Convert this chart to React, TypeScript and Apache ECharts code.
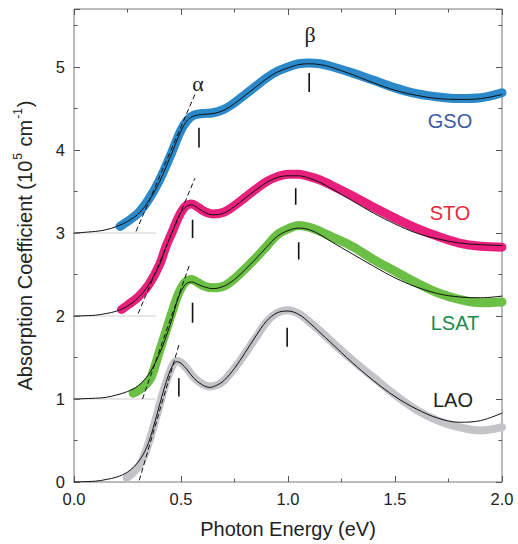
import React, { useEffect, useRef } from 'react';
import * as echarts from 'echarts';

// ---------- data (photon energy eV, absorption 10^5 cm^-1, curves offset by 1) ----------
const gsoMeasured = [[0.215,3.08],[0.25,3.14],[0.3,3.24],[0.35,3.41],[0.4,3.64],[0.45,3.93],[0.5,4.24],[0.53,4.36],[0.56,4.42],[0.6,4.44],[0.65,4.45],[0.7,4.49],[0.75,4.57],[0.8,4.67],[0.85,4.77],[0.9,4.87],[0.95,4.95],[1.0,5.0],[1.05,5.04],[1.1,5.05],[1.15,5.04],[1.2,5.01],[1.3,4.93],[1.4,4.84],[1.5,4.75],[1.6,4.68],[1.7,4.64],[1.8,4.62],[1.9,4.63],[2.0,4.69]];
const gsoFit = [[0,3.0],[0.1,3.02],[0.15,3.04],[0.2,3.08],[0.25,3.14],[0.3,3.23],[0.35,3.39],[0.4,3.62],[0.45,3.92],[0.5,4.23],[0.53,4.36],[0.56,4.41],[0.6,4.43],[0.65,4.44],[0.7,4.48],[0.75,4.56],[0.8,4.66],[0.85,4.76],[0.9,4.86],[0.95,4.94],[1.0,4.99],[1.05,5.03],[1.1,5.04],[1.15,5.03],[1.2,5.0],[1.3,4.91],[1.4,4.81],[1.5,4.72],[1.6,4.66],[1.7,4.62],[1.8,4.61],[1.9,4.62],[2.0,4.67]];

const stoMeasured = [[0.222,2.08],[0.25,2.13],[0.3,2.23],[0.35,2.38],[0.4,2.62],[0.43,2.84],[0.46,3.02],[0.49,3.2],[0.52,3.32],[0.55,3.35],[0.58,3.31],[0.61,3.26],[0.65,3.23],[0.7,3.25],[0.75,3.33],[0.8,3.43],[0.85,3.53],[0.9,3.62],[0.95,3.68],[1.0,3.71],[1.05,3.71],[1.1,3.68],[1.15,3.64],[1.2,3.58],[1.3,3.45],[1.4,3.31],[1.5,3.18],[1.6,3.06],[1.7,2.96],[1.8,2.88],[1.9,2.84],[2.0,2.83]];
const stoFit = [[0,2.0],[0.1,2.01],[0.15,2.03],[0.2,2.06],[0.25,2.12],[0.3,2.22],[0.35,2.38],[0.4,2.62],[0.43,2.83],[0.46,3.02],[0.49,3.2],[0.52,3.31],[0.55,3.34],[0.58,3.3],[0.61,3.25],[0.65,3.22],[0.7,3.24],[0.75,3.32],[0.8,3.42],[0.85,3.52],[0.9,3.61],[0.95,3.67],[1.0,3.69],[1.05,3.69],[1.1,3.66],[1.15,3.61],[1.2,3.54],[1.3,3.39],[1.4,3.24],[1.5,3.11],[1.6,3.0],[1.7,2.93],[1.8,2.88],[1.9,2.86],[2.0,2.85]];

const lsatMeasured = [[0.277,1.07],[0.3,1.1],[0.33,1.16],[0.36,1.26],[0.4,1.58],[0.43,1.82],[0.46,2.06],[0.49,2.28],[0.52,2.41],[0.55,2.44],[0.58,2.4],[0.61,2.36],[0.65,2.34],[0.7,2.36],[0.75,2.45],[0.8,2.57],[0.85,2.7],[0.9,2.84],[0.95,2.98],[1.0,3.05],[1.05,3.09],[1.1,3.07],[1.15,3.02],[1.2,2.96],[1.3,2.84],[1.4,2.68],[1.5,2.54],[1.6,2.4],[1.7,2.28],[1.8,2.2],[1.9,2.16],[2.0,2.17]];
const lsatFit = [[0,1.0],[0.1,1.01],[0.15,1.02],[0.2,1.05],[0.25,1.09],[0.3,1.16],[0.35,1.3],[0.4,1.55],[0.45,1.9],[0.49,2.24],[0.52,2.38],[0.55,2.41],[0.58,2.38],[0.61,2.35],[0.65,2.33],[0.7,2.36],[0.75,2.44],[0.8,2.56],[0.85,2.69],[0.9,2.83],[0.95,2.96],[1.0,3.03],[1.05,3.06],[1.1,3.04],[1.15,2.98],[1.2,2.9],[1.3,2.75],[1.4,2.6],[1.5,2.46],[1.6,2.35],[1.7,2.27],[1.8,2.23],[1.9,2.22],[2.0,2.24]];

const laoMeasured = [[0.246,0.05],[0.28,0.12],[0.31,0.22],[0.34,0.4],[0.37,0.65],[0.4,0.93],[0.43,1.2],[0.46,1.4],[0.48,1.46],[0.5,1.44],[0.53,1.36],[0.56,1.26],[0.6,1.18],[0.635,1.15],[0.67,1.17],[0.7,1.22],[0.75,1.37],[0.8,1.55],[0.85,1.74],[0.9,1.93],[0.95,2.04],[1.0,2.07],[1.05,2.03],[1.1,1.93],[1.15,1.82],[1.2,1.7],[1.3,1.47],[1.4,1.26],[1.5,1.05],[1.6,0.87],[1.7,0.74],[1.8,0.66],[1.9,0.62],[2.0,0.66]];
const laoFit = [[0,0],[0.1,0.01],[0.15,0.03],[0.2,0.06],[0.25,0.12],[0.3,0.24],[0.34,0.42],[0.37,0.65],[0.4,0.93],[0.43,1.2],[0.46,1.4],[0.48,1.45],[0.5,1.43],[0.53,1.35],[0.56,1.25],[0.6,1.17],[0.635,1.14],[0.67,1.17],[0.7,1.22],[0.75,1.37],[0.8,1.56],[0.85,1.76],[0.9,1.94],[0.95,2.04],[1.0,2.06],[1.05,2.02],[1.1,1.92],[1.15,1.8],[1.2,1.68],[1.3,1.44],[1.4,1.22],[1.5,1.03],[1.6,0.88],[1.7,0.77],[1.8,0.72],[1.9,0.74],[2.0,0.83]];

// dashed onset tangents [[E0, A0], [E1, A1]]
const gsoTangent = [[0.29,3.02],[0.57,4.7]];
const stoTangent = [[0.3,2.03],[0.565,3.66]];
const lsatTangent = [[0.32,1.0],[0.54,2.62]];
const laoTangent = [[0.305,0.02],[0.49,1.65]];

// peak markers [E, Alow, Ahigh]
const alphaMarkers = [[0.584,4.03,4.27],[0.554,2.94,3.16],[0.554,1.92,2.16],[0.49,1.03,1.25]];
const betaMarkers = [[1.099,4.7,4.93],[1.036,3.34,3.54],[1.05,2.68,2.89],[0.996,1.63,1.86]];

// thin offset baselines
const baselineLevels = [1, 2, 3];
const baselineEnd = 0.38;

const sampleNames = ['GSO', 'STO', 'LSAT', 'LAO'];
const peakNames = ['α', 'β'];

const FONT = '"Liberation Sans", Arial, Helvetica, sans-serif';
const SERIF = '"Liberation Serif", "DejaVu Serif", serif';

export default function App() {
  const ref = useRef<HTMLDivElement>(null);
  useEffect(() => {
    const chart = echarts.init(ref.current!, null, { renderer: 'svg' });
    const tickColor = '#555';
    const xBase = (pos: string, show: boolean) => ({
      type: 'value', position: pos, min: 0, max: 2, interval: 0.5, gridIndex: 0,
      axisLine: { show: false, onZero: false },
      splitLine: { show: false },
      axisTick: { show: true, inside: true, length: 6, lineStyle: { color: tickColor, width: 1 } },
      minorTick: { show: true, splitNumber: 2, length: 3.5, lineStyle: { color: tickColor, width: 1 } },
      axisLabel: { show, formatter: (v: number) => v.toFixed(1), fontSize: 16.5, color: '#222', margin: 8, fontFamily: FONT },
    });
    const yBase = (pos: string, interval: number, len: number, showLabel: boolean) => ({
      type: 'value', position: pos, min: 0, max: 5.7, interval, gridIndex: 0,
      axisLine: { show: false, onZero: false },
      splitLine: { show: false },
      axisTick: { show: true, inside: true, length: len, lineStyle: { color: tickColor, width: 1 } },
      axisLabel: { show: showLabel, formatter: (v: number) => (Number.isInteger(v) ? String(v) : ''), fontSize: 16.5, color: '#222', margin: 9, fontFamily: FONT },
    });

    const line = (name: string, data: number[][], color: string, width: number, extra: any = {}) => ({
      type: 'line', name, data, xAxisIndex: 0, yAxisIndex: 0, symbol: 'none', showSymbol: false, silent: true,
      smooth: 0.35, lineStyle: { color, width, cap: 'round', join: 'round', ...extra }, z: 2,
    });

    const bandColors = ['#2b88c9', '#e8207b', '#6bbf44', '#c4c4c8'];
    const measured = [gsoMeasured, stoMeasured, lsatMeasured, laoMeasured];
    const fits = [gsoFit, stoFit, lsatFit, laoFit];
    const tangents = [gsoTangent, stoTangent, lsatTangent, laoTangent];

    const series: any[] = [];
    baselineLevels.forEach((lv) => {
      series.push({ ...line('baseline' + lv, [[0, lv], [baselineEnd, lv]], '#cfcfcf', 1), smooth: false });
    });
    measured.forEach((d, i) => {
      series.push(line(sampleNames[i] + ' data', d, bandColors[i], i === 3 ? 8 : 9));
    });
    fits.forEach((d, i) => {
      series.push({ ...line(sampleNames[i] + ' fit', d, '#111', 1), z: 3 });
    });
    tangents.forEach((d, i) => {
      series.push({ ...line(sampleNames[i] + ' onset', d, '#111', 1, { type: [5, 3], cap: 'butt' }), smooth: false, z: 3 });
    });
    [...alphaMarkers, ...betaMarkers].forEach((m, i) => {
      series.push({ ...line('marker' + i, [[m[0], m[1]], [m[0], m[2]]], '#111', 1.6, { cap: 'butt' }), smooth: false, z: 3 });
    });

    const txt = (text: string, x: number, y: number, fill: string, size: number, family = FONT) => ({
      type: 'text', x, y, silent: true, z: 10,
      style: { text, fill, fontSize: size, fontFamily: family, align: 'center', verticalAlign: 'middle', textAlign: 'center', textVerticalAlign: 'middle' },
    });

    chart.setOption({
      animation: false,
      backgroundColor: '#fff',
      grid: { left: 74, right: 16, top: 9, bottom: 60, show: true, borderColor: '#777', borderWidth: 1, backgroundColor: 'transparent', containLabel: false },
      xAxis: [
        { ...xBase('bottom', true), name: 'Photon Energy (eV)', nameLocation: 'middle', nameGap: 37, nameTextStyle: { fontSize: 20, color: '#222', fontFamily: FONT } },
        xBase('top', false),
      ],
      yAxis: [
        {
          ...yBase('left', 1, 6, true),
          name: '{n|Absorption Coefficient (10}{s|5}{n| cm}{s|-1}{n|)}',
          nameLocation: 'middle', nameGap: 36,
          nameTextStyle: {
            color: '#222', fontFamily: FONT,
            rich: {
              n: { fontSize: 20, fontFamily: FONT, color: '#222', lineHeight: 26 },
              s: { fontSize: 12, fontFamily: FONT, color: '#222', lineHeight: 26, verticalAlign: 'top', padding: [0, 1, 0, 1] },
            },
          },
        },
        yBase('left', 0.5, 3.5, false),
        yBase('right', 1, 6, false),
        yBase('right', 0.5, 3.5, false),
      ],
      series,
      graphic: [
        txt(peakNames[0], 198, 83, '#222', 22, SERIF),
        txt(peakNames[1], 310, 34, '#222', 22, SERIF),
        txt(sampleNames[0], 450, 121, '#3a5ba6', 20),
        txt(sampleNames[1], 450, 213, '#e42d3a', 20),
        txt(sampleNames[2], 455, 323, '#1e8b4c', 20),
        txt(sampleNames[3], 453, 400, '#222', 20),
      ],
    });
    return () => chart.dispose();
  }, []);
  return <div ref={ref} style={{ position: 'fixed', left: 0, top: 0, width: 518, height: 544 }} />;
}
